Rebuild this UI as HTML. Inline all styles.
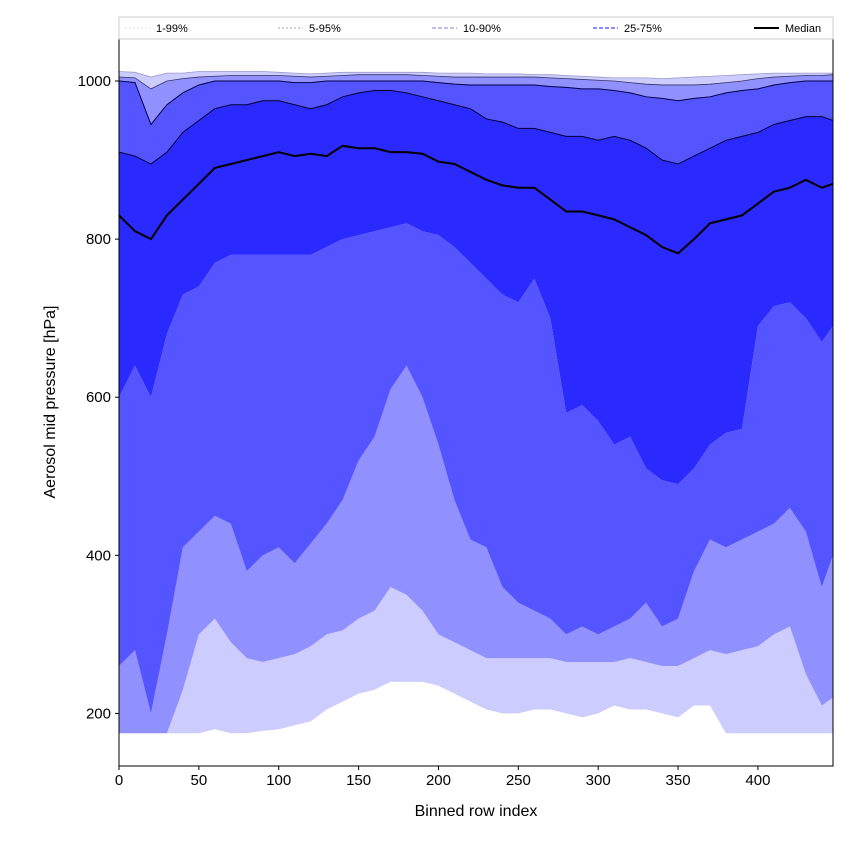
<!DOCTYPE html>
<html><head><meta charset="utf-8"><style>
body{margin:0;background:#fff;font-family:"Liberation Sans",sans-serif}
</style></head><body>
<svg id="c" width="850" height="850" xmlns="http://www.w3.org/2000/svg"></svg>
<script>
const xs=[0,10,20,30,40,50,60,70,80,90,100,110,120,130,140,150,160,170,180,190,200,210,220,230,240,250,260,270,280,290,300,310,320,330,340,350,360,370,380,390,400,410,420,430,440,447];
const med=[830,810,800,830,850,870,890,895,900,905,910,905,908,905,918,915,915,910,910,908,898,895,885,875,868,865,865,850,835,835,830,825,815,805,790,782,800,820,825,830,845,860,865,875,865,870];
const p75=[910,905,895,910,935,950,965,970,970,975,975,970,965,970,980,985,988,988,985,980,975,970,965,952,948,940,940,935,930,930,925,930,925,915,900,895,905,915,925,930,935,945,950,955,955,950];
const p90=[1000,998,945,970,985,995,1000,1000,1000,1000,1000,998,998,1000,1000,1000,1000,1000,1000,1000,998,996,995,995,995,995,995,993,992,990,990,988,985,980,978,975,978,980,985,988,990,995,998,1000,1000,1000];
const p95=[1005,1004,990,1000,1003,1005,1006,1007,1007,1007,1007,1006,1005,1006,1007,1008,1008,1008,1008,1007,1006,1005,1005,1005,1005,1005,1005,1004,1003,1002,1001,1000,998,996,995,995,995,996,998,1000,1003,1005,1006,1007,1007,1008];
const p99=[1012,1011,1005,1010,1010,1012,1012,1012,1012,1012,1011,1010,1009,1010,1011,1011,1011,1011,1011,1011,1010,1010,1010,1009,1009,1009,1008,1008,1007,1006,1005,1004,1004,1004,1003,1004,1005,1006,1007,1008,1009,1010,1010,1010,1010,1010];
const p25=[600,640,600,680,730,740,770,780,780,780,780,780,780,790,800,805,810,815,820,810,805,790,770,750,730,720,750,700,580,590,570,540,550,510,495,490,510,540,555,560,690,715,720,700,670,690];
const p10=[260,280,200,300,410,430,450,440,380,400,410,390,415,440,470,520,550,610,640,600,540,470,420,410,360,340,330,320,300,310,300,310,320,340,310,320,380,420,410,420,430,440,460,430,360,400];
const p5=[175,175,175,175,230,300,320,290,270,265,270,275,285,300,305,320,330,360,350,330,300,290,280,270,270,270,270,270,265,265,265,265,270,265,260,260,270,280,275,280,285,300,310,250,210,220];
const p1=[175,175,175,175,175,175,180,175,175,178,180,185,190,205,215,225,230,240,240,240,235,225,215,205,200,200,205,205,200,195,200,210,205,205,200,195,210,210,175,175,175,175,175,175,175,175];
const xTicks=[0,50,100,150,200,250,300,350,400];
const yTicks=[200,400,600,800,1000];
const L=119,R=833,T=38,B=766,XMAX=447,YMIN=133.5,YMAX=1054.4;
const X=v=>L+(v/XMAX)*(R-L);
const Y=v=>B-(v-YMIN)/(YMAX-YMIN)*(B-T);
const svg=document.getElementById('c');
const NS='http://www.w3.org/2000/svg';
function el(t,a,p){const e=document.createElementNS(NS,t);for(const k in a)e.setAttribute(k,a[k]);(p||svg).appendChild(e);return e;}
function band(lo,hi,col,name){
  let d='M'+xs.map((x,i)=>X(x)+','+Y(hi[i])).join('L');
  for(let i=xs.length-1;i>=0;i--)d+='L'+X(xs[i])+','+Y(lo[i]);
  const e=el('path',{d:d+'Z',fill:col,stroke:'none'});
  
  
}
function line(arr,col,w,dash,name){
  const e=el('path',{d:'M'+xs.map((x,i)=>X(x)+','+Y(arr[i])).join('L'),fill:'none',stroke:col,'stroke-width':w,'stroke-dasharray':dash||'none'});
  
  
}
band(p1,p5,'#ccccff','band-1-5');
band(p5,p10,'#9090ff','band-5-10');
band(p10,p25,'#5555ff','band-10-25');
band(p25,p75,'#2a2aff','band-25-75');
band(p75,p90,'#5555ff','band-75-90');
band(p90,p95,'#9090ff','band-90-95');
band(p95,p99,'#ccccff','band-95-99');
line(p99,'#9999cc',0.8,'','line-p99');
line(p95,'#333366',0.8,'','line-p95');
line(p90,'#000044',1,'','line-p90');
line(p75,'#000033',1,'','line-p75');
line(med,'#000',2,'','median-line');
el('rect',{x:L,y:T,width:R-L,height:B-T,fill:'none',stroke:'#000','stroke-width':1});
xTicks.forEach(v=>{
  el('line',{x1:X(v),x2:X(v),y1:B,y2:B+4,stroke:'#000'});
  const t=el('text',{x:X(v),y:B+19,'text-anchor':'middle','font-size':15});t.textContent=v;
  
  
});
yTicks.forEach(v=>{
  el('line',{x1:L-4,x2:L,y1:Y(v),y2:Y(v),stroke:'#000'});
  const t=el('text',{x:L-8,y:Y(v)+5,'text-anchor':'end','font-size':15});t.textContent=v;
  
  
});
const xt=el('text',{x:(L+R)/2,y:816,'text-anchor':'middle','font-size':16});xt.textContent='Binned row index';


const yt=el('text',{x:0,y:0,'text-anchor':'middle','font-size':16,transform:'translate(55,402) rotate(-90)'});yt.textContent='Aerosol mid pressure [hPa]';


// legend
const lg=el('g',{});


el('rect',{x:119,y:17,width:714,height:22,fill:'#fff',stroke:'#ccc'},lg);
const leg=[['1-99%',125,'#ddd','2,2',1],['5-95%',278,'#aaa','2,2',1],['10-90%',432,'#9a9ae0','4,2',1.2],['25-75%',593,'#6666ff','4,2',1.5],['Median',754,'#000','',2]];
leg.forEach(l=>{
  el('line',{x1:l[1],x2:l[1]+25,y1:28,y2:28,stroke:l[2],'stroke-width':l[4],'stroke-dasharray':l[3]||'none'},lg);
  const t=el('text',{x:l[1]+31,y:32,'font-size':11},lg);t.textContent=l[0];
  
  
});
</script>
</body></html>
